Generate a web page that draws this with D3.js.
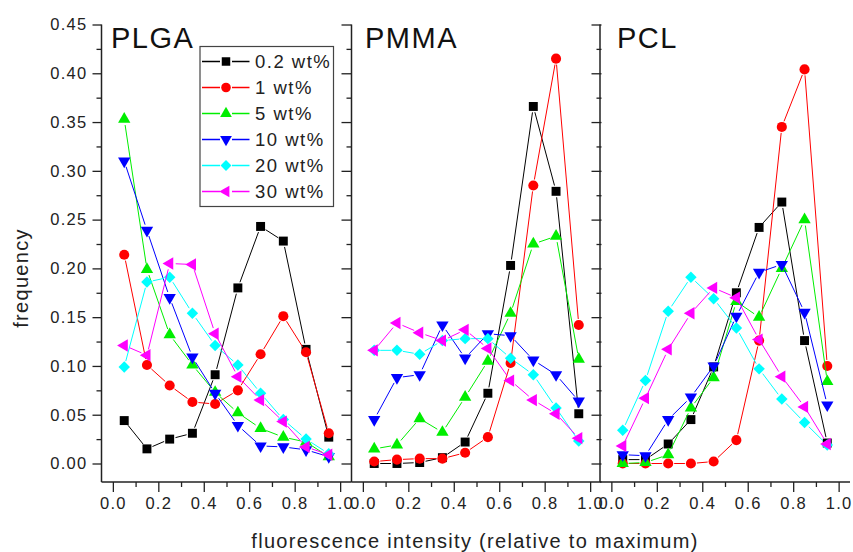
<!DOCTYPE html>
<html>
<head>
<meta charset="utf-8">
<script src="https://cdn.jsdelivr.net/npm/d3@7"></script>
<style>
  html, body { margin: 0; padding: 0; background: #fff; }
  svg { display: block; font-family: "Liberation Sans", Arial, sans-serif; }
</style>
</head>
<body>
<svg id="chart" width="853" height="552"></svg>
<script>
// ---------------- data ----------------
const intensity = [0.05, 0.15, 0.25, 0.35, 0.45, 0.55, 0.65, 0.75, 0.85, 0.95];
const seriesNames = ["0.2 wt%", "1 wt%", "5 wt%", "10 wt%", "20 wt%", "30 wt%"];
const panelNames = ["PLGA", "PMMA", "PCL"];
const xTicks = [0.0, 0.2, 0.4, 0.6, 0.8, 1.0];
const yTicks = [0.00, 0.05, 0.10, 0.15, 0.20, 0.25, 0.30, 0.35, 0.40, 0.45];

// PLGA
const plga_02 = [0.044, 0.015, 0.025, 0.031, 0.091, 0.180, 0.243, 0.228, 0.117, 0.027];
const plga_1  = [0.214, 0.101, 0.080, 0.063, 0.061, 0.075, 0.112, 0.151, 0.114, 0.031];
const plga_5  = [0.353, 0.199, 0.132, 0.101, 0.073, 0.052, 0.036, 0.027, 0.022, 0.007];
const plga_10 = [0.310, 0.239, 0.170, 0.109, 0.072, 0.039, 0.018, 0.017, 0.014, 0.007];
const plga_20 = [0.099, 0.186, 0.191, 0.154, 0.121, 0.101, 0.072, 0.045, 0.025, 0.010];
const plga_30 = [0.121, 0.111, 0.205, 0.204, 0.133, 0.089, 0.065, 0.043, 0.017, 0.009];
// PMMA
const pmma_02 = [0.000, 0.000, 0.001, 0.006, 0.022, 0.072, 0.203, 0.366, 0.279, 0.051];
const pmma_1  = [0.002, 0.004, 0.005, 0.005, 0.011, 0.027, 0.103, 0.285, 0.415, 0.142];
const pmma_5  = [0.015, 0.019, 0.046, 0.032, 0.068, 0.105, 0.154, 0.225, 0.233, 0.107];
const pmma_10 = [0.045, 0.088, 0.091, 0.142, 0.108, 0.133, 0.131, 0.106, 0.091, 0.064];
const pmma_20 = [0.116, 0.116, 0.112, 0.126, 0.128, 0.128, 0.108, 0.091, 0.057, 0.023];
const pmma_30 = [0.116, 0.144, 0.134, 0.126, 0.137, 0.118, 0.085, 0.065, 0.051, 0.026];
// PCL
const pcl_02 = [0.004, 0.004, 0.020, 0.045, 0.099, 0.175, 0.242, 0.268, 0.126, 0.021];
const pcl_1  = [0.000, 0.000, 0.000, 0.000, 0.002, 0.024, 0.126, 0.345, 0.404, 0.100];
const pcl_5  = [0.000, 0.001, 0.009, 0.057, 0.088, 0.166, 0.150, 0.200, 0.250, 0.084];
const pcl_10 = [0.009, 0.008, 0.045, 0.068, 0.100, 0.151, 0.196, 0.204, 0.155, 0.060];
const pcl_20 = [0.034, 0.085, 0.156, 0.191, 0.169, 0.139, 0.097, 0.066, 0.042, 0.019];
const pcl_30 = [0.018, 0.067, 0.117, 0.154, 0.180, 0.170, 0.127, 0.089, 0.058, 0.020];

const panelData = [
  [plga_02, plga_1, plga_5, plga_10, plga_20, plga_30],
  [pmma_02, pmma_1, pmma_5, pmma_10, pmma_20, pmma_30],
  [pcl_02, pcl_1, pcl_5, pcl_10, pcl_20, pcl_30]
];

// ---------------- styles ----------------
const colors = ["#000000", "#ff0000", "#00ee00", "#0000ff", "#00ffff", "#ff00ff"];
const symbolDefs = [
  { type: d3.symbolSquare,   size: 80, rot: 0 },
  { type: d3.symbolCircle,   size: 80, rot: 0 },
  { type: d3.symbolTriangle, size: 66, rot: 0 },
  { type: d3.symbolTriangle, size: 66, rot: 180 },
  { type: d3.symbolSquare,   size: 66, rot: 45 },
  { type: d3.symbolTriangle, size: 66, rot: -90 }
];

const svg = d3.select("#chart");
const textColor = "#222";
const axisColor = "#222";

const plotTop = 24.5, plotBottom = 482;
const panelLefts = [101.5, 351.5, 600];
const panelWidth = 250;
const titleOffsets = [9.5, 13.5, 17];

const y = d3.scaleLinear().domain([0, 0.45]).range([463.5, 24.5]);

function shortenSegment(p, q, gap) {
  const dx = q[0] - p[0], dy = q[1] - p[1];
  const len = Math.hypot(dx, dy);
  if (len <= 2 * gap) return null;
  const ux = dx / len, uy = dy / len;
  return [[p[0] + ux * gap, p[1] + uy * gap], [q[0] - ux * gap, q[1] - uy * gap]];
}

panelData.forEach((series, pi) => {
  const left = panelLefts[pi];
  const x = d3.scaleLinear().domain([-0.05, 1.05]).range([left, left + panelWidth]);
  const g = svg.append("g");

  // bottom axis with major + minor ticks
  const xMajor = d3.axisBottom(x).tickValues(xTicks).tickSize(10).tickFormat(d3.format(".1f")).tickPadding(5);
  const xMinor = d3.axisBottom(x).tickValues([0.1, 0.3, 0.5, 0.7, 0.9]).tickSize(5).tickFormat("");
  const gx = g.append("g").attr("transform", `translate(0,${plotBottom})`).call(xMajor);
  const gxm = g.append("g").attr("transform", `translate(0,${plotBottom})`).call(xMinor);
  [gx, gxm].forEach(a => {
    a.select(".domain").remove();
    a.selectAll("line").attr("stroke", axisColor).attr("stroke-width", 1.3);
  });
  gx.selectAll("text").attr("font-size", 16.5).attr("fill", textColor)
    .attr("font-family", "Liberation Sans, Arial, sans-serif")
    .style("letter-spacing", "1.3px");

  // left axis line
  g.append("line").attr("x1", left).attr("x2", left).attr("y1", plotTop).attr("y2", plotBottom)
    .attr("stroke", axisColor).attr("stroke-width", 1.5);
  // bottom axis line
  g.append("line").attr("x1", left).attr("x2", left + panelWidth).attr("y1", plotBottom).attr("y2", plotBottom)
    .attr("stroke", axisColor).attr("stroke-width", 1.5);

  const yMinorVals = d3.range(0.025, 0.45, 0.05);
  if (pi === 0) {
    const yMajor = d3.axisLeft(y).tickValues(yTicks).tickSize(9).tickFormat(d3.format(".2f")).tickPadding(5);
    const yMinor = d3.axisLeft(y).tickValues(yMinorVals).tickSize(5).tickFormat("");
    const gy = g.append("g").attr("transform", `translate(${left},0)`).call(yMajor);
    const gym = g.append("g").attr("transform", `translate(${left},0)`).call(yMinor);
    [gy, gym].forEach(a => {
      a.select(".domain").remove();
      a.selectAll("line").attr("stroke", axisColor).attr("stroke-width", 1.3);
    });
    gy.selectAll("text").attr("font-size", 16.5).attr("fill", textColor)
      .attr("font-family", "Liberation Sans, Arial, sans-serif")
      .style("letter-spacing", "1.3px");
  }
  // right side inward ticks for panels 1 and 2
  if (pi < 2) {
    const right = left + panelWidth;
    const rMajor = d3.axisLeft(y).tickValues(yTicks).tickSize(10).tickFormat("");
    const rMinor = d3.axisLeft(y).tickValues(yMinorVals).tickSize(5).tickFormat("");
    [rMajor, rMinor].forEach(ax => {
      const a = g.append("g").attr("transform", `translate(${right},0)`).call(ax);
      a.select(".domain").remove();
      a.selectAll("line").attr("stroke", axisColor).attr("stroke-width", 1.3);
    });
  }

  // panel title
  g.append("text").attr("x", left + titleOffsets[pi]).attr("y", 47.5)
    .attr("font-size", 29).attr("fill", "#111").style("letter-spacing", "1.5px")
    .text(panelNames[pi]);

  // series
  series.forEach((vals, si) => {
    const pts = vals.map((v, i) => [x(intensity[i]), y(v)]);
    const sg = g.append("g");
    for (let i = 0; i < pts.length - 1; i++) {
      const seg = shortenSegment(pts[i], pts[i + 1], 6);
      if (seg) {
        sg.append("line")
          .attr("x1", seg[0][0]).attr("y1", seg[0][1])
          .attr("x2", seg[1][0]).attr("y2", seg[1][1])
          .attr("stroke", colors[si]).attr("stroke-width", 1);
      }
    }
    const sd = symbolDefs[si];
    sg.selectAll("path.m").data(pts).enter().append("path")
      .attr("class", "m")
      .attr("d", d3.symbol().type(sd.type).size(sd.size))
      .attr("transform", d => `translate(${d[0]},${d[1]}) rotate(${sd.rot})`)
      .attr("fill", colors[si]);
  });
});

// legend
const legend = svg.append("g");
legend.append("rect").attr("x", 200).attr("y", 46.5).attr("width", 133.5).attr("height", 160)
  .attr("fill", "#fff").attr("stroke", "#444").attr("stroke-width", 1.2);
seriesNames.forEach((name, si) => {
  const ry = 61.5 + si * 26;
  const sd = symbolDefs[si];
  legend.append("line").attr("x1", 202).attr("x2", 220).attr("y1", ry).attr("y2", ry)
    .attr("stroke", colors[si]).attr("stroke-width", 1.5);
  legend.append("line").attr("x1", 232).attr("x2", 249.5).attr("y1", ry).attr("y2", ry)
    .attr("stroke", colors[si]).attr("stroke-width", 1.5);
  legend.append("path")
    .attr("d", d3.symbol().type(sd.type).size(sd.size * 0.9))
    .attr("transform", `translate(226,${ry}) rotate(${sd.rot})`)
    .attr("fill", colors[si]);
  legend.append("text").attr("x", 255).attr("y", ry).attr("dy", "0.35em")
    .attr("font-size", 18.5).attr("fill", textColor).style("letter-spacing", "1.5px")
    .text(name);
});

// axis titles
svg.append("text").attr("x", 475).attr("y", 548).attr("text-anchor", "middle")
  .attr("font-size", 20).attr("fill", textColor).style("letter-spacing", "1.3px")
  .text("fluorescence intensity (relative to maximum)");
svg.append("text").attr("transform", "translate(28,278) rotate(-90)").attr("text-anchor", "middle")
  .attr("font-size", 20).attr("fill", textColor).style("letter-spacing", "1.3px")
  .text("frequency");
</script>
</body>
</html>
